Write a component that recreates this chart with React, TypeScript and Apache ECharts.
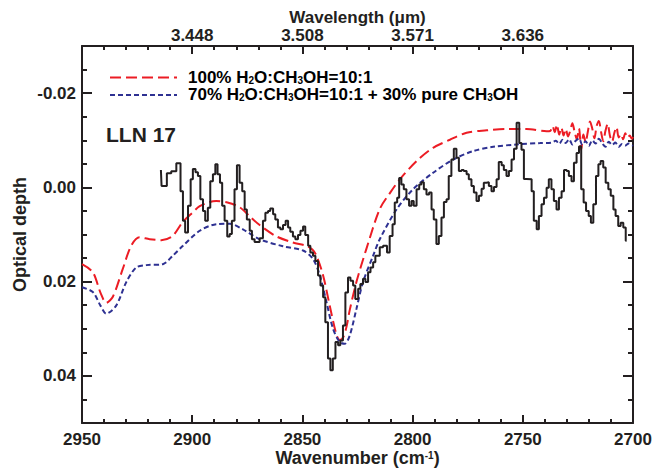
import React, { useEffect, useRef } from 'react';
import * as echarts from 'echarts';

// Observed spectrum of LLN 17: [wavenumber (cm-1), optical depth]
const observed: [number, number][] = [
  [2914.2, -0.0037], [2913.9, -0.0003], [2911.5, -0.003], [2909.5, -0.0034], [2907.2, -0.0051],
  [2905.3, 0.0008], [2904.2, 0.0071], [2903.2, 0.0096], [2901.9, 0.0039], [2900.7, -0.0017],
  [2899.7, -0.0039], [2898.5, -0.0032], [2897.4, -0.0024], [2896.3, 0.0025], [2895.1, 0.005],
  [2894.1, 0.0071], [2892.9, 0.0043], [2891.8, -0.0013], [2890.6, -0.0028], [2889.5, -0.0049],
  [2888.5, -0.0028], [2887.4, -0.001], [2886.4, 0.0039], [2885.3, 0.0071], [2884.1, 0.0104],
  [2883.0, 0.0099], [2882.0, 0.0071], [2880.8, 0.0004], [2879.7, -0.0047], [2878.5, -0.001],
  [2877.3, 0.0008], [2876.2, 0.0047], [2875.2, 0.0068], [2873.9, 0.0092], [2872.9, 0.011],
  [2871.7, 0.0116], [2869.4, 0.0108], [2867.9, 0.0071], [2866.8, 0.0054], [2865.6, 0.005],
  [2864.6, 0.0045], [2863.3, 0.0057], [2862.3, 0.0068], [2861.1, 0.0085], [2860.0, 0.0089],
  [2858.8, 0.008], [2857.6, 0.0071], [2856.5, 0.0085], [2855.5, 0.0094], [2854.3, 0.0104],
  [2853.2, 0.011], [2852.0, 0.0101], [2850.9, 0.0092], [2849.7, 0.0083], [2848.7, 0.0101],
  [2847.4, 0.0124], [2846.4, 0.0138], [2845.2, 0.0145], [2844.1, 0.0156], [2842.9, 0.0187],
  [2841.8, 0.0208], [2840.6, 0.0233], [2839.6, 0.0286], [2838.4, 0.0363], [2837.3, 0.0388],
  [2836.2, 0.0363], [2835.0, 0.0328], [2833.8, 0.0335], [2832.8, 0.0325], [2831.6, 0.0293],
  [2830.5, 0.0223], [2829.3, 0.0191], [2828.2, 0.0198], [2827.0, 0.0208], [2826.0, 0.0237],
  [2824.7, 0.0215], [2823.7, 0.0205], [2822.5, 0.0194], [2821.4, 0.0201], [2820.2, 0.018],
  [2819.1, 0.017], [2817.9, 0.0159], [2816.9, 0.0145], [2814.9, 0.0127], [2813.4, 0.0124],
  [2811.6, 0.0138], [2810.4, 0.0103], [2809.1, 0.0078], [2808.1, 0.0032], [2807.0, 0.0022],
  [2806.1, -0.002], [2805.1, -0.0006], [2804.0, 0.0004], [2802.8, 0.0025], [2801.6, 0.0039],
  [2800.5, 0.0029], [2799.5, 0.0039], [2798.2, 0.0004], [2797.0, -0.0006], [2796.0, -0.0011],
  [2794.9, 0.0004], [2793.7, 0.0015], [2792.5, 0.0011], [2791.4, 0.0047], [2790.4, 0.0068],
  [2789.2, 0.012], [2788.1, 0.0103], [2786.9, 0.0064], [2785.8, 0.0031], [2784.6, 0.0025],
  [2783.6, -0.0024], [2782.4, -0.0059], [2781.3, -0.0082], [2780.1, -0.0063], [2779.0, -0.0035],
  [2777.8, -0.0037], [2776.8, -0.0035], [2775.5, -0.0028], [2774.5, -0.0017], [2773.3, -0.0003],
  [2772.2, 0.0011], [2771.0, 0.0029], [2769.9, 0.0018], [2768.7, 0.0003], [2767.7, -0.001],
  [2766.5, -0.0011], [2765.4, -0.0003], [2764.2, 0.0008], [2763.1, -0.0001], [2761.9, -0.0017],
  [2760.9, -0.0054], [2759.6, -0.0047], [2758.6, -0.0037], [2757.4, -0.0024], [2756.3, -0.0035],
  [2755.1, -0.0059], [2754.0, -0.0082], [2752.8, -0.0137], [2751.6, -0.0094], [2750.6, -0.008],
  [2749.5, -0.0018], [2748.3, -0.0017], [2746.0, 0.0008], [2745.0, 0.0071], [2743.7, 0.0089],
  [2742.7, 0.0061], [2741.5, 0.0036], [2740.4, 0.0022], [2739.2, 0.0001], [2738.2, -0.0017],
  [2737.0, 0.0004], [2735.9, 0.0029], [2734.7, 0.0047], [2733.6, 0.0022], [2732.4, 0.0008],
  [2731.3, -0.0037], [2730.1, -0.0035], [2729.1, -0.0024], [2727.9, -0.0013], [2726.8, -0.0052],
  [2725.6, -0.0073], [2724.5, -0.0087], [2723.5, 0.0004], [2722.4, 0.0032], [2721.3, 0.005],
  [2720.1, 0.0061], [2719.1, 0.0075], [2718.0, 0.0036], [2716.8, -0.0024], [2715.7, -0.0049],
  [2714.7, -0.0056], [2713.5, -0.0042], [2712.4, -0.001], [2711.2, 0.0004], [2710.1, 0.0018],
  [2708.9, 0.0047], [2707.9, 0.0061], [2706.7, 0.0082], [2705.6, 0.0075], [2704.4, 0.0085],
  [2703.3, 0.0113], [2702.9, 0.0113],
];

// Model: 100% H2O:CH3OH=10:1
const model100: [number, number][] = [
  [2950, 0.0163], [2945.1, 0.018], [2941.5, 0.0225], [2939.0, 0.0245], [2936.0, 0.0232],
  [2931.5, 0.0173], [2927.7, 0.0124], [2923.9, 0.0106], [2919.3, 0.011], [2914.0, 0.0112],
  [2908.9, 0.0103], [2904.4, 0.0074], [2900.0, 0.0054], [2896.6, 0.004], [2892.0, 0.0031],
  [2889.1, 0.0029], [2884.0, 0.0032], [2878.5, 0.0042], [2874.0, 0.0061], [2869.4, 0.008],
  [2861.8, 0.0104], [2854.3, 0.0117], [2848.2, 0.0124], [2845.5, 0.0132], [2843.6, 0.0145],
  [2840.6, 0.0187], [2837.6, 0.0251], [2834.6, 0.0312], [2833.1, 0.0324], [2831.5, 0.0318],
  [2830.0, 0.0296], [2828.5, 0.026], [2825.5, 0.0201], [2821.0, 0.0131], [2814.9, 0.0046],
  [2810.0, 0.001], [2805.8, -0.0017], [2798.2, -0.0056], [2790.7, -0.0084], [2783.1, -0.0101],
  [2775.5, -0.0116], [2766.4, -0.0121], [2757.4, -0.0124], [2748.3, -0.0124], [2739.2, -0.0119],
  [2737.5, -0.012], [2736.5, -0.013], [2735.5, -0.0117], [2734.5, -0.0133], [2733.5, -0.0112],
  [2732.5, -0.0127], [2731.5, -0.011], [2730.5, -0.0124], [2729.5, -0.0108], [2728.5, -0.012],
  [2727.5, -0.0136], [2726.5, -0.0118], [2725.5, -0.0102], [2724.5, -0.0125], [2723.5, -0.008],
  [2722.5, -0.0112], [2721.5, -0.0096], [2720.5, -0.0118], [2719.5, -0.014], [2718.5, -0.0125],
  [2717.5, -0.0104], [2716.5, -0.013], [2715.5, -0.0141], [2714.5, -0.0118], [2713.5, -0.0098],
  [2712.5, -0.012], [2711.5, -0.0135], [2710.5, -0.011], [2709.5, -0.0097], [2708.5, -0.0115],
  [2707.5, -0.0128], [2706.5, -0.0106], [2705.5, -0.0113], [2704.5, -0.0102], [2703.5, -0.0115],
  [2702.5, -0.0105], [2701.5, -0.011], [2700.5, -0.0103], [2700, -0.0107],
];

// Model: 70% H2O:CH3OH=10:1 + 30% pure CH3OH
const model70: [number, number][] = [
  [2950, 0.0212], [2945.1, 0.0222], [2941.5, 0.0252], [2939.0, 0.0268], [2934.5, 0.0251],
  [2929.9, 0.0201], [2925.4, 0.017], [2920.8, 0.0165], [2913.3, 0.0163], [2908.8, 0.0145],
  [2904.2, 0.0124], [2896.6, 0.0092], [2889.1, 0.0078], [2883.0, 0.0077], [2877.0, 0.0089],
  [2869.4, 0.011], [2858.8, 0.0125], [2849.7, 0.0134], [2845.2, 0.0152], [2842.1, 0.0187],
  [2839.1, 0.0243], [2836.1, 0.03], [2833.1, 0.0328], [2830.8, 0.0332], [2828.5, 0.0314],
  [2825.5, 0.0258], [2822.5, 0.0201], [2817.9, 0.0145], [2814.9, 0.011], [2807.3, 0.0047],
  [2799.8, 0.0004], [2790.7, -0.0031], [2781.6, -0.0059], [2772.5, -0.0077], [2763.4, -0.0086],
  [2752.8, -0.0091], [2742.2, -0.0094], [2737.0, -0.0095], [2735.0, -0.0099], [2733.5, -0.0092],
  [2732.0, -0.0101], [2730.5, -0.0094], [2729.0, -0.0102], [2727.5, -0.0091], [2726.0, -0.0099],
  [2724.5, -0.0104], [2723.0, -0.009], [2721.5, -0.0098], [2720.0, -0.0088], [2718.5, -0.01],
  [2717.0, -0.0093], [2715.5, -0.0103], [2714.0, -0.0094], [2712.5, -0.0086], [2711.0, -0.0097],
  [2709.5, -0.009], [2708.0, -0.0095], [2706.5, -0.0086], [2705.0, -0.0092], [2703.5, -0.0089],
  [2702.0, -0.0093], [2700, -0.0088],
];

const seriesNames = ['100% H2O:CH3OH=10:1', '70% H2O:CH3OH=10:1 + 30% pure CH3OH', 'LLN 17'];
const yMajorTicks = [-0.02, 0, 0.02, 0.04];
const yMinorTicks = [-0.025, -0.015, -0.01, -0.005, 0.005, 0.01, 0.015, 0.025, 0.03, 0.035, 0.045];
const topTickWavenumbers = [2900, 2850, 2800, 2750];
const topTickLabels = ['3.448', '3.508', '3.571', '3.636'];

const INK = '#231f20';
const RED = '#ec1c24';
const BLUE = '#2e3192';
const FONT = "'Liberation Sans', Arial, Helvetica, sans-serif";

const subRich = {
  n: { fontSize: 17, fontWeight: 'bold', fontFamily: FONT, color: INK, lineHeight: 16 },
  s: { fontSize: 10, fontWeight: 'bold', fontFamily: FONT, color: INK, lineHeight: 4, verticalAlign: 'bottom' },
};

export default function App() {
  const ref = useRef<HTMLDivElement>(null);
  useEffect(() => {
    if (!ref.current) return;
    const chart = echarts.init(ref.current, undefined, { renderer: 'svg' });
    const axisLine = { show: true, onZero: false, lineStyle: { color: INK, width: 2 } };
    const labelStyle = { color: INK, fontSize: 17, lineHeight: 17, fontWeight: 'bold' as const, fontFamily: FONT };
    const titleStyle = { color: INK, fontSize: 18, lineHeight: 18, fontWeight: 'bold' as const, fontFamily: FONT };
    const xCommon = {
      type: 'value' as const,
      min: 2700,
      max: 2950,
      interval: 50,
      inverse: true,
      axisLine,
      nameMoveOverlap: false,
      splitLine: { show: false },
      axisTick: { show: true, inside: true, length: 8, lineStyle: { color: INK, width: 2 } },
      minorTick: { show: true, splitNumber: 5, length: 4, lineStyle: { color: INK, width: 2 } },
    };
    const yCommon = {
      type: 'value' as const,
      min: -0.03,
      max: 0.05,
      inverse: true,
      nameMoveOverlap: false,
      splitLine: { show: false },
    };
    chart.setOption({
      animation: false,
      backgroundColor: '#ffffff',
      grid: { left: 82, right: 22, top: 46, bottom: 45, containLabel: false, outerBoundsMode: 'none' },
      xAxis: [
        {
          ...xCommon,
          position: 'bottom',
          name: '{n|Wavenumber (cm}{p|-1}{n|)}',
          nameLocation: 'middle',
          nameGap: 27,
          nameTextStyle: {
            rich: {
              n: { ...titleStyle, lineHeight: 16 },
              p: { fontSize: 10, fontWeight: 'bold', fontFamily: FONT, color: INK, lineHeight: 10, verticalAlign: 'top' },
            },
          },
          axisLabel: { ...labelStyle, margin: 8, formatter: (v: number) => String(v) },
        },
        {
          ...xCommon,
          position: 'top',
          name: 'Wavelength (\u03bcm)',
          nameLocation: 'middle',
          nameGap: 20,
          nameTextStyle: { ...titleStyle, fontSize: 17, lineHeight: 17 },
          axisLabel: {
            ...labelStyle,
            margin: 2,
            customValues: topTickWavenumbers,
            formatter: (v: number) => {
              const i = topTickWavenumbers.indexOf(v);
              return i >= 0 ? topTickLabels[i] : '';
            },
          },
        },
      ],
      yAxis: [
        {
          ...yCommon,
          position: 'left',
          axisLine,
          name: 'Optical depth',
          nameLocation: 'middle',
          nameGap: 53,
          nameRotate: 90,
          nameTextStyle: { ...titleStyle },
          axisTick: { show: true, inside: true, length: 10, customValues: yMajorTicks, lineStyle: { color: INK, width: 2 } },
          axisLabel: { ...labelStyle, margin: 6, customValues: yMajorTicks, formatter: (v: number) => v.toFixed(2) },
        },
        {
          ...yCommon,
          position: 'left',
          axisLine: { show: false },
          axisTick: { show: true, inside: true, length: 5, customValues: yMinorTicks, lineStyle: { color: INK, width: 2 } },
          axisLabel: { show: false },
        },
        {
          ...yCommon,
          position: 'right',
          axisLine,
          axisTick: { show: true, inside: true, length: 10, customValues: yMajorTicks, lineStyle: { color: INK, width: 2 } },
          axisLabel: { show: false },
        },
        {
          ...yCommon,
          position: 'right',
          axisLine: { show: false },
          axisTick: { show: true, inside: true, length: 5, customValues: yMinorTicks, lineStyle: { color: INK, width: 2 } },
          axisLabel: { show: false },
        },
      ],
      series: [
        {
          name: seriesNames[0],
          type: 'line',
          data: model100,
          symbol: 'none',
          smooth: 0.3,
          lineStyle: { color: RED, width: 2, type: [11, 5] },
          z: 2,
        },
        {
          name: seriesNames[1],
          type: 'line',
          data: model70,
          symbol: 'none',
          smooth: 0.3,
          lineStyle: { color: BLUE, width: 2, type: [5, 3] },
          z: 2,
        },
        {
          name: seriesNames[2],
          type: 'line',
          data: observed,
          symbol: 'none',
          step: 'end',
          lineStyle: { color: INK, width: 2 },
          z: 3,
        },
      ],
      graphic: [
        {
          type: 'line',
          shape: { x1: 110, y1: 77.5, x2: 177, y2: 77.5 },
          style: { stroke: RED, lineWidth: 2, lineDash: [11, 5] },
        },
        {
          type: 'line',
          shape: { x1: 110, y1: 95, x2: 177, y2: 95 },
          style: { stroke: BLUE, lineWidth: 2, lineDash: [5, 3] },
        },
        {
          type: 'text',
          x: 188,
          y: 77,
          style: {
            text: '{n|100% H}{s|2}{n|O:CH}{s|3}{n|OH=10:1}',
            rich: subRich,
            verticalAlign: 'middle',
            align: 'left',
          },
        },
        {
          type: 'text',
          x: 188,
          y: 94.5,
          style: {
            text: '{n|70% H}{s|2}{n|O:CH}{s|3}{n|OH=10:1 + 30% pure CH}{s|3}{n|OH}',
            rich: subRich,
            verticalAlign: 'middle',
            align: 'left',
          },
        },
        {
          type: 'text',
          x: 106,
          y: 134.5,
          style: {
            text: seriesNames[2],
            fontSize: 21,
            fontWeight: 'bold',
            fontFamily: FONT,
            fill: INK,
            verticalAlign: 'middle',
            align: 'left',
          },
        },
      ],
    });
    return () => chart.dispose();
  }, []);
  return <div ref={ref} style={{ position: 'absolute', left: 0, top: 0, width: 655, height: 468 }} />;
}
